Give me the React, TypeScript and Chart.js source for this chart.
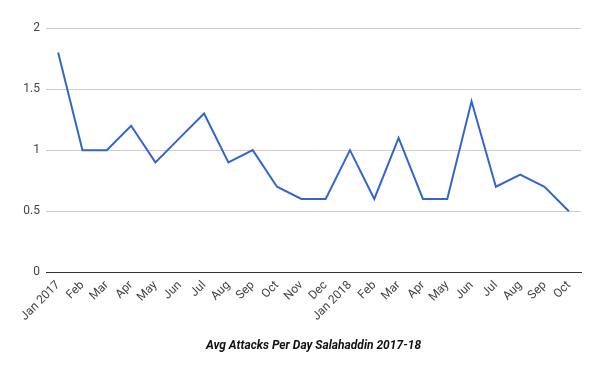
import React, { useEffect, useRef } from "react";
import { Chart, registerables } from "chart.js";

Chart.register(...registerables);

const categories = [
  "Jan 2017", "Feb", "Mar", "Apr", "May", "Jun", "Jul", "Aug", "Sep", "Oct", "Nov", "Dec",
  "Jan 2018", "Feb", "Mar", "Apr", "May", "Jun", "Jul", "Aug", "Sep", "Oct",
];
const avgAttacks = [
  1.8, 1.0, 1.0, 1.2, 0.9, 1.1, 1.3, 0.9, 1.0, 0.7, 0.6, 0.6,
  1.0, 0.6, 1.1, 0.6, 0.6, 1.4, 0.7, 0.8, 0.7, 0.5,
];
const yTicks = [0, 0.5, 1, 1.5, 2];
const titleText = "Avg Attacks Per Day Salahaddin 2017-18";

export default function App() {
  const ref = useRef<HTMLCanvasElement | null>(null);
  useEffect(() => {
    document.body.style.margin = "0";
    if (!ref.current) return;
    const chart = new Chart(ref.current, {
      type: "line",
      data: {
        labels: categories,
        datasets: [
          {
            data: avgAttacks,
            borderColor: "#3366cc",
            backgroundColor: "#3366cc",
            borderWidth: 2,
            pointRadius: 0,
            tension: 0,
            fill: false,
          },
        ],
      },
      options: {
        animation: false,
        responsive: false,
        maintainAspectRatio: false,
        layout: { padding: { top: 28, right: 19, left: 0, bottom: 18 } },
        plugins: {
          legend: { display: false },
          tooltip: { enabled: false },
          title: { display: false },
        },
        scales: {
          x: {
            type: "category",
            offset: true,
            grid: { display: false, drawTicks: false },
            border: { display: true, color: "#333", width: 1 },
            title: {
              display: true,
              text: titleText,
              color: "#111",
              font: { family: "Roboto", size: 12, weight: "bold", style: "italic" },
              padding: { top: 9, bottom: 0 },
            },
            ticks: {
              color: "#444",
              font: { family: "Roboto", size: 12 },
              maxRotation: 45,
              minRotation: 45,
              autoSkip: false,
              padding: 6,
            },
          },
          y: {
            min: 0,
            max: 2,
            afterFit: (s: any) => {
              s.width = 46;
            },
            afterBuildTicks: (s: any) => {
              s.ticks = yTicks.map((v) => ({ value: v }));
            },
            grid: {
              color: "#cccccc",
              drawTicks: false,
            },
            border: { display: false },
            ticks: {
              color: "#444",
              font: { family: "Roboto", size: 12 },
              padding: 6,
              callback: (v: any) => String(v),
            },
          },
        },
      },
    });
    return () => chart.destroy();
  }, []);
  return (
    <div style={{ position: "absolute", left: 0, top: 0 }}>
      <canvas ref={ref} width={600} height={371} style={{ width: 600, height: 371 }} />
    </div>
  );
}
